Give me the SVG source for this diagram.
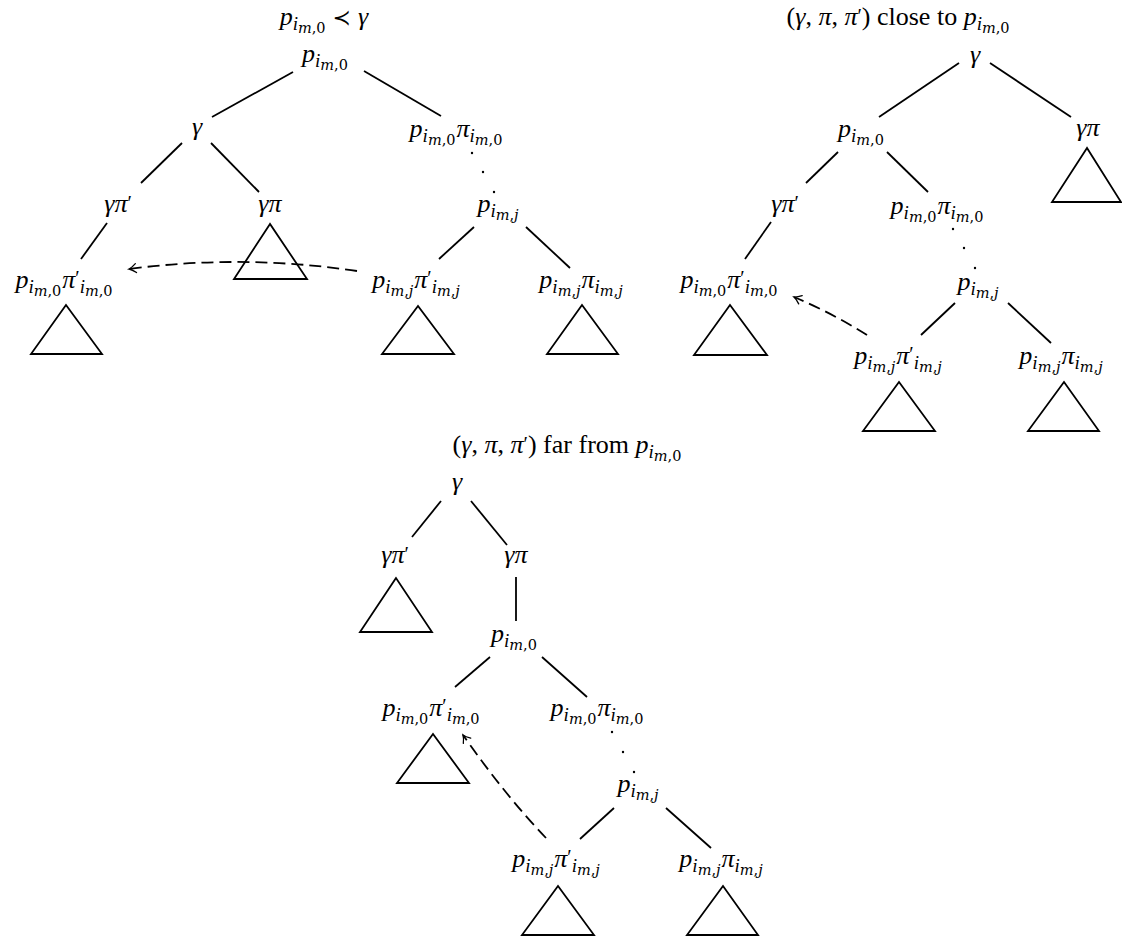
<svg xmlns="http://www.w3.org/2000/svg" width="1122" height="940" viewBox="0 0 1122 940">
<defs>
<style>
.t{font-family:"Liberation Serif","DejaVu Serif",serif;font-size:26px;fill:#000}
.i{font-style:italic}
.s1{font-size:19px}
.s2{font-family:"DejaVu Serif",serif;font-size:14.5px;font-style:normal}
.pr{font-size:20px;font-style:normal}
.rel{font-family:"DejaVu Sans",sans-serif;font-size:22px;font-style:normal}
.e{stroke:#000;stroke-width:1.8;fill:none;stroke-linecap:butt}
.d{stroke:#000;stroke-width:1.8;fill:none;stroke-dasharray:12 6}
.tri{stroke:#000;stroke-width:1.8;fill:none;stroke-linejoin:miter}
.dot{fill:#000}
</style>
<marker id="arr" viewBox="-9 -6 11 12" markerWidth="11" markerHeight="12" refX="0" refY="0" orient="auto" markerUnits="userSpaceOnUse">
<path d="M-7,-4.5 Q-3,-1 0,0 Q-3,1 -7,4.5" fill="none" stroke="#000" stroke-width="1.3" stroke-linecap="round"/>
</marker>
</defs>
<rect width="1122" height="940" fill="#fff"/>

<!-- ===== Tree 1 ===== -->
<g id="t1-title"><text class="t" x="324" y="25" text-anchor="middle"><tspan class="i">p</tspan><tspan class="i s1" dy="5">i</tspan><tspan class="s2" dy="3"><tspan class="i">m</tspan>,0</tspan><tspan class="rel" dy="-8"> ≺ </tspan><tspan class="i">γ</tspan></text></g>
<g id="t1-root"><text class="t" x="325" y="62" text-anchor="middle"><tspan class="i">p</tspan><tspan class="i s1" dy="5">i</tspan><tspan class="s2" dy="3"><tspan class="i">m</tspan>,0</tspan></text></g>
<g id="t1-gamma"><text class="t i" x="197" y="135" text-anchor="middle">γ</text></g>
<g id="t1-ppi0"><text class="t" x="456" y="137" text-anchor="middle"><tspan class="i">p</tspan><tspan class="i s1" dy="5">i</tspan><tspan class="s2" dy="3"><tspan class="i">m</tspan>,0</tspan><tspan class="i" dx="1" dy="-8">π</tspan><tspan class="i s1" dy="5">i</tspan><tspan class="s2" dy="3"><tspan class="i">m</tspan>,0</tspan></text></g>
<g id="t1-pj"><text class="t" x="498" y="212" text-anchor="middle"><tspan class="i">p</tspan><tspan class="i s1" dy="5">i</tspan><tspan class="s2" dy="3"><tspan class="i">m</tspan>,<tspan class="i">j</tspan></tspan></text></g>
<g id="t1-gpip"><text class="t i" x="118" y="212" text-anchor="middle">γπ<tspan class="pr" dy="-2">′</tspan></text></g>
<g id="t1-gpi"><text class="t i" x="270" y="212" text-anchor="middle">γπ</text></g>
<g id="t1-gpi-sub"><path class="tri" d="M270,224 L234,279 L307,279 Z"/></g>
<g id="t1-ppip0"><text class="t" x="64" y="288" text-anchor="middle"><tspan class="i">p</tspan><tspan class="i s1" dy="5">i</tspan><tspan class="s2" dy="3"><tspan class="i">m</tspan>,0</tspan><tspan class="i" dx="1" dy="-8">π</tspan><tspan class="pr" dy="-3">′</tspan><tspan class="i s1" dy="8">i</tspan><tspan class="s2" dy="3"><tspan class="i">m</tspan>,0</tspan></text></g>
<g id="t1-ppip0-sub"><path class="tri" d="M66,305 L31,354 L102,354 Z"/></g>
<g id="t1-ppipj"><text class="t" x="416" y="288" text-anchor="middle"><tspan class="i">p</tspan><tspan class="i s1" dy="5">i</tspan><tspan class="s2" dy="3"><tspan class="i">m</tspan>,<tspan class="i">j</tspan></tspan><tspan class="i" dx="1" dy="-8">π</tspan><tspan class="pr" dy="-3">′</tspan><tspan class="i s1" dy="8">i</tspan><tspan class="s2" dy="3"><tspan class="i">m</tspan>,<tspan class="i">j</tspan></tspan></text></g>
<g id="t1-ppipj-sub"><path class="tri" d="M418,306 L382,354 L454,354 Z"/></g>
<g id="t1-ppij"><text class="t" x="581" y="288" text-anchor="middle"><tspan class="i">p</tspan><tspan class="i s1" dy="5">i</tspan><tspan class="s2" dy="3"><tspan class="i">m</tspan>,<tspan class="i">j</tspan></tspan><tspan class="i" dx="1" dy="-8">π</tspan><tspan class="i s1" dy="5">i</tspan><tspan class="s2" dy="3"><tspan class="i">m</tspan>,<tspan class="i">j</tspan></tspan></text></g>
<g id="t1-ppij-sub"><path class="tri" d="M582,305 L547,354 L618,354 Z"/></g>

<!-- ===== Tree 2 ===== -->
<g id="t2-title"><text class="t" x="898" y="25" text-anchor="middle">(<tspan class="i">γ</tspan>, <tspan class="i">π</tspan>, <tspan class="i">π</tspan><tspan class="pr" dy="-2">′</tspan><tspan dy="2">) close to </tspan><tspan class="i">p</tspan><tspan class="i s1" dy="5">i</tspan><tspan class="s2" dy="3"><tspan class="i">m</tspan>,0</tspan></text></g>
<g id="t2-root"><text class="t i" x="975" y="63" text-anchor="middle">γ</text></g>
<g id="t2-p0"><text class="t" x="861" y="137" text-anchor="middle"><tspan class="i">p</tspan><tspan class="i s1" dy="5">i</tspan><tspan class="s2" dy="3"><tspan class="i">m</tspan>,0</tspan></text></g>
<g id="t2-gpi"><text class="t i" x="1088" y="136" text-anchor="middle">γπ</text></g>
<g id="t2-gpi-sub"><path class="tri" d="M1087,148 L1052,202 L1121,202 Z"/></g>
<g id="t2-gpip"><text class="t i" x="785" y="212" text-anchor="middle">γπ<tspan class="pr" dy="-2">′</tspan></text></g>
<g id="t2-ppi0"><text class="t" x="937" y="214" text-anchor="middle"><tspan class="i">p</tspan><tspan class="i s1" dy="5">i</tspan><tspan class="s2" dy="3"><tspan class="i">m</tspan>,0</tspan><tspan class="i" dx="1" dy="-8">π</tspan><tspan class="i s1" dy="5">i</tspan><tspan class="s2" dy="3"><tspan class="i">m</tspan>,0</tspan></text></g>
<g id="t2-ppip0"><text class="t" x="729" y="288" text-anchor="middle"><tspan class="i">p</tspan><tspan class="i s1" dy="5">i</tspan><tspan class="s2" dy="3"><tspan class="i">m</tspan>,0</tspan><tspan class="i" dx="1" dy="-8">π</tspan><tspan class="pr" dy="-3">′</tspan><tspan class="i s1" dy="8">i</tspan><tspan class="s2" dy="3"><tspan class="i">m</tspan>,0</tspan></text></g>
<g id="t2-ppip0-sub"><path class="tri" d="M730,305 L694,355 L767,355 Z"/></g>
<g id="t2-pj"><text class="t" x="978" y="290" text-anchor="middle"><tspan class="i">p</tspan><tspan class="i s1" dy="5">i</tspan><tspan class="s2" dy="3"><tspan class="i">m</tspan>,<tspan class="i">j</tspan></tspan></text></g>
<g id="t2-ppipj"><text class="t" x="898" y="364" text-anchor="middle"><tspan class="i">p</tspan><tspan class="i s1" dy="5">i</tspan><tspan class="s2" dy="3"><tspan class="i">m</tspan>,<tspan class="i">j</tspan></tspan><tspan class="i" dx="1" dy="-8">π</tspan><tspan class="pr" dy="-3">′</tspan><tspan class="i s1" dy="8">i</tspan><tspan class="s2" dy="3"><tspan class="i">m</tspan>,<tspan class="i">j</tspan></tspan></text></g>
<g id="t2-ppipj-sub"><path class="tri" d="M899,382 L863,431 L935,431 Z"/></g>
<g id="t2-ppij"><text class="t" x="1061" y="364" text-anchor="middle"><tspan class="i">p</tspan><tspan class="i s1" dy="5">i</tspan><tspan class="s2" dy="3"><tspan class="i">m</tspan>,<tspan class="i">j</tspan></tspan><tspan class="i" dx="1" dy="-8">π</tspan><tspan class="i s1" dy="5">i</tspan><tspan class="s2" dy="3"><tspan class="i">m</tspan>,<tspan class="i">j</tspan></tspan></text></g>
<g id="t2-ppij-sub"><path class="tri" d="M1064,382 L1028,431 L1099,431 Z"/></g>

<!-- ===== Tree 3 ===== -->
<g id="t3-title"><text class="t" x="567" y="453" text-anchor="middle">(<tspan class="i">γ</tspan>, <tspan class="i">π</tspan>, <tspan class="i">π</tspan><tspan class="pr" dy="-2">′</tspan><tspan dy="2">) far from </tspan><tspan class="i">p</tspan><tspan class="i s1" dy="5">i</tspan><tspan class="s2" dy="3"><tspan class="i">m</tspan>,0</tspan></text></g>
<g id="t3-root"><text class="t i" x="457" y="490" text-anchor="middle">γ</text></g>
<g id="t3-gpip"><text class="t i" x="395" y="563" text-anchor="middle">γπ<tspan class="pr" dy="-2">′</tspan></text></g>
<g id="t3-gpip-sub"><path class="tri" d="M396,578 L360,632 L432,632 Z"/></g>
<g id="t3-gpi"><text class="t i" x="516" y="563" text-anchor="middle">γπ</text></g>
<g id="t3-p0"><text class="t" x="514" y="642" text-anchor="middle"><tspan class="i">p</tspan><tspan class="i s1" dy="5">i</tspan><tspan class="s2" dy="3"><tspan class="i">m</tspan>,0</tspan></text></g>
<g id="t3-ppip0"><text class="t" x="431" y="716" text-anchor="middle"><tspan class="i">p</tspan><tspan class="i s1" dy="5">i</tspan><tspan class="s2" dy="3"><tspan class="i">m</tspan>,0</tspan><tspan class="i" dx="1" dy="-8">π</tspan><tspan class="pr" dy="-3">′</tspan><tspan class="i s1" dy="8">i</tspan><tspan class="s2" dy="3"><tspan class="i">m</tspan>,0</tspan></text></g>
<g id="t3-ppip0-sub"><path class="tri" d="M433,734 L397,783 L469,783 Z"/></g>
<g id="t3-ppi0"><text class="t" x="597" y="716" text-anchor="middle"><tspan class="i">p</tspan><tspan class="i s1" dy="5">i</tspan><tspan class="s2" dy="3"><tspan class="i">m</tspan>,0</tspan><tspan class="i" dx="1" dy="-8">π</tspan><tspan class="i s1" dy="5">i</tspan><tspan class="s2" dy="3"><tspan class="i">m</tspan>,0</tspan></text></g>
<g id="t3-pj"><text class="t" x="638" y="792" text-anchor="middle"><tspan class="i">p</tspan><tspan class="i s1" dy="5">i</tspan><tspan class="s2" dy="3"><tspan class="i">m</tspan>,<tspan class="i">j</tspan></tspan></text></g>
<g id="t3-ppipj"><text class="t" x="556" y="867" text-anchor="middle"><tspan class="i">p</tspan><tspan class="i s1" dy="5">i</tspan><tspan class="s2" dy="3"><tspan class="i">m</tspan>,<tspan class="i">j</tspan></tspan><tspan class="i" dx="1" dy="-8">π</tspan><tspan class="pr" dy="-3">′</tspan><tspan class="i s1" dy="8">i</tspan><tspan class="s2" dy="3"><tspan class="i">m</tspan>,<tspan class="i">j</tspan></tspan></text></g>
<g id="t3-ppipj-sub"><path class="tri" d="M558,886 L522,935 L594,935 Z"/></g>
<g id="t3-ppij"><text class="t" x="721" y="867" text-anchor="middle"><tspan class="i">p</tspan><tspan class="i s1" dy="5">i</tspan><tspan class="s2" dy="3"><tspan class="i">m</tspan>,<tspan class="i">j</tspan></tspan><tspan class="i" dx="1" dy="-8">π</tspan><tspan class="i s1" dy="5">i</tspan><tspan class="s2" dy="3"><tspan class="i">m</tspan>,<tspan class="i">j</tspan></tspan></text></g>
<g id="t3-ppij-sub"><path class="tri" d="M723,886 L687,935 L758,935 Z"/></g>

<!-- ===== Connectors ===== -->
<g id="connectors">
<path class="e" d="M293,72 L212,117"/>
<path class="e" d="M364,71 L441,116"/>
<path class="e" d="M182,143 L141,183"/>
<path class="e" d="M211,143 L259,192"/>
<path class="e" d="M107,223 L81,259"/>
<path class="e" d="M474,227 L439,259"/>
<path class="e" d="M526,227 L570,268"/>
<circle class="dot" cx="472" cy="153" r="1.2"/><circle class="dot" cx="483" cy="172" r="1.2"/><circle class="dot" cx="494" cy="192" r="1.2"/>
<path class="d" d="M357,271 Q243,254 129,269" marker-end="url(#arr)"/>

<path class="e" d="M959,63 L879,117"/>
<path class="e" d="M990,63 L1071,117"/>
<path class="e" d="M838,152 L806,183"/>
<path class="e" d="M887,152 L928,192"/>
<path class="e" d="M771,222 L745,259"/>
<circle class="dot" cx="953" cy="229" r="1.2"/><circle class="dot" cx="964" cy="248" r="1.2"/><circle class="dot" cx="975" cy="268" r="1.2"/>
<path class="e" d="M955,303 L921,335"/>
<path class="e" d="M1008,303 L1051,343"/>
<path class="d" d="M867,335 Q832,313 794,297" marker-end="url(#arr)"/>

<path class="e" d="M441,501 L412,537"/>
<path class="e" d="M471,501 L507,545"/>
<path class="e" d="M516,577 L516,621"/>
<path class="e" d="M490,657 L455,687"/>
<path class="e" d="M542,657 L587,697"/>
<circle class="dot" cx="612" cy="732" r="1.2"/><circle class="dot" cx="623" cy="752" r="1.2"/><circle class="dot" cx="634" cy="772" r="1.2"/>
<path class="e" d="M614,808 L580,839"/>
<path class="e" d="M666,808 L711,848"/>
<path class="d" d="M546,838 Q505,795 463,735" marker-end="url(#arr)"/>
</g>
</svg>
